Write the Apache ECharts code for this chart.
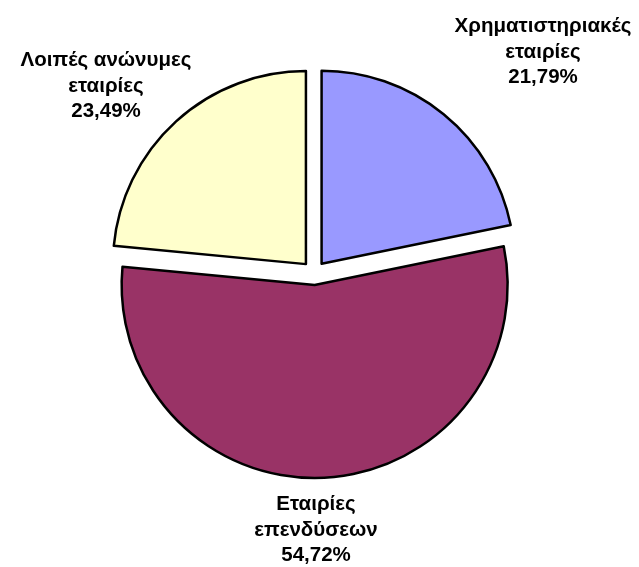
<!DOCTYPE html>
<html>
<head>
<meta charset="utf-8">
<script src="https://cdn.jsdelivr.net/npm/echarts@6/dist/echarts.min.js"></script>
<style>html,body{margin:0;padding:0;background:#fff;}#c{width:639px;height:567px;}</style>
</head>
<body>
<div id="c"></div>
<script>
var categories = ['Χρηματιστηριακές\nεταιρίες', 'Εταιρίες\nεπενδύσεων', 'Λοιπές ανώνυμες\nεταιρίες'];
var values = [21.79, 54.72, 23.49];
var colors = ['#9999FF', '#993366', '#FFFFCC'];
var labelPos = [[543, 52], [316, 530], [106, 86]];

function fmt(i) {
  return categories[i] + '\n' + values[i].toFixed(2).replace('.', ',') + '%';
}

var chart = echarts.init(document.getElementById('c'));
chart.setOption({
  animation: false,
  backgroundColor: '#ffffff',
  graphic: categories.map(function (c, i) {
    return {
      type: 'text',
      x: labelPos[i][0],
      y: labelPos[i][1],
      style: {
        text: fmt(i),
        fill: '#000',
        font: 'bold 20.5px "Liberation Sans", Arial, sans-serif',
        lineHeight: 25.5,
        align: 'center',
        verticalAlign: 'middle'
      }
    };
  }),
  series: [{
    type: 'pie',
    center: [314, 273],
    radius: 193,
    startAngle: 90,
    clockwise: true,
    selectedMode: 'multiple',
    selectedOffset: 12,
    itemStyle: { borderColor: '#000', borderWidth: 2.5 },
    emphasis: { disabled: true },
    select: { itemStyle: { borderColor: '#000', borderWidth: 2.5 } },
    label: { show: false },
    labelLine: { show: false },
    data: categories.map(function (c, i) {
      return { name: c, value: values[i], selected: true, itemStyle: { color: colors[i] } };
    })
  }]
});
</script>
</body>
</html>
